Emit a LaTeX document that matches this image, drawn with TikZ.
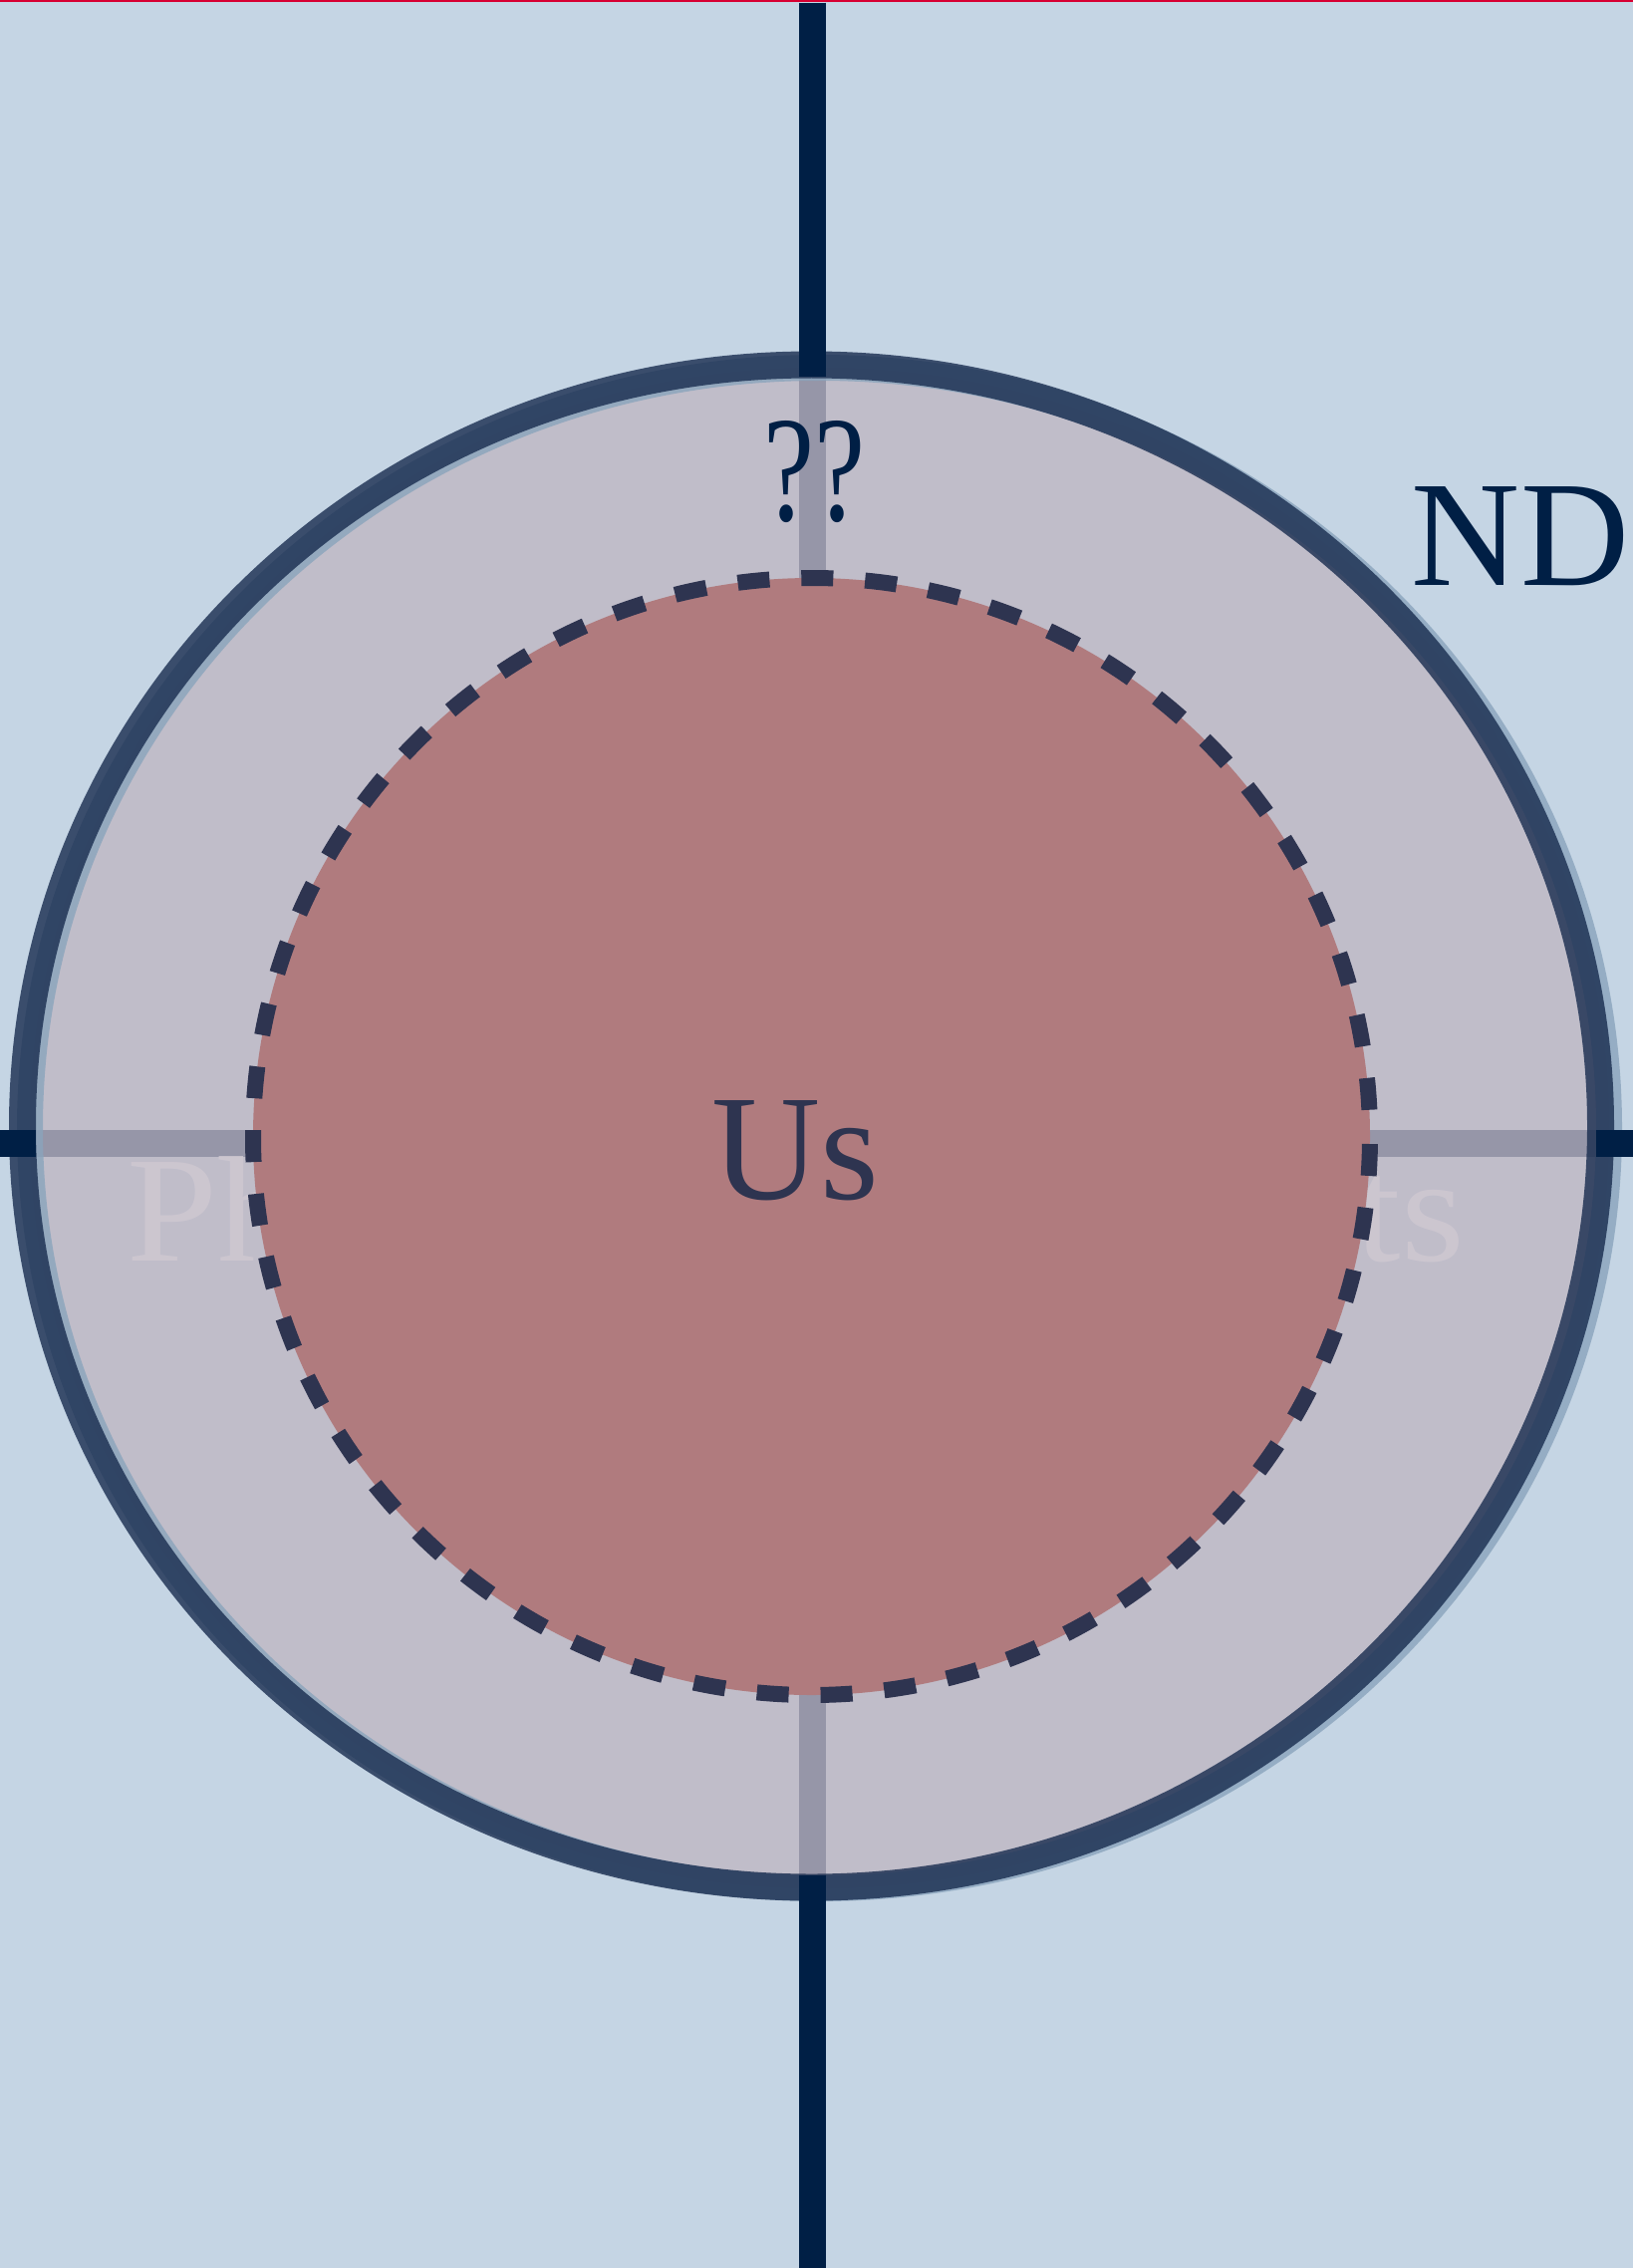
\documentclass[tikz,border=0pt]{standalone}
\usepackage{fontspec}
\setmainfont{Liberation Serif}
\definecolor{bgblue}{RGB}{197,213,228}
\definecolor{navy}{RGB}{0,31,69}
\definecolor{setfill}{RGB}{191,183,195}
\definecolor{rimlight}{RGB}{138,164,188}
\definecolor{rimdark}{RGB}{20,40,75}
\definecolor{usfill}{RGB}{176,123,126}
\definecolor{usline}{RGB}{46,52,80}
\definecolor{topred}{RGB}{215,0,50}

\begin{document}
\begin{tikzpicture}[x=0.1mm,y=-0.1mm,
  axis/.style={draw=navy,line width=2.7mm},
  big/.style={font=\fontsize{43}{52}\selectfont,inner sep=0pt,anchor=base},
  outerset/.style={fill=setfill,fill opacity=0.79,draw=rimlight,draw opacity=0.8,line width=2.6mm},
  outerrim/.style={draw=rimdark,draw opacity=0.78,line width=2.7mm},
  innerset/.style={fill=usfill,draw=usline,line width=1.6mm,
                   dash pattern=on 3.2mm off 3.2mm,dash phase=5.65mm}]

% ---- canvas ----
\fill[bgblue] (0,0) rectangle (1639,2276);
\useasboundingbox (0,0) rectangle (1639,2276);

% ---- axes (run under the sets) ----
\coordinate (top) at (815,3);
\coordinate (bot) at (815,2276);
\coordinate (lft) at (0,1147.5);
\coordinate (rgt) at (1639,1147.5);
\draw[axis] (top) -- (bot);
\draw[axis] (lft) -- (rgt);

% ---- label hidden under the outer set ----
\node[big,text=white] (phys) at (799,1265) {\scalebox{1.084}[1]{Physics departments}};

% ---- outer set, drawn twice a bit apart ----
\path[outerset] (822.5,1132) ellipse [x radius=792.5,y radius=763];
\path[outerrim] (814.5,1130) ellipse [x radius=792,y radius=764];

% axes again where they cross the rim
\coordinate (topin) at (815,378);
\coordinate (botin) at (815,1882);
\coordinate (lftin) at (36,1147.5);
\coordinate (rgtin) at (1602,1147.5);
\draw[axis] (top) -- (topin);
\draw[axis] (botin) -- (bot);
\draw[axis] (lft) -- (lftin);
\draw[axis] (rgtin) -- (rgt);

% ---- inner set ----
\path[innerset] (814.5,1140.5) circle [radius=560.5];

% ---- labels ----
\node[big,text=navy] (unknown) at (817,523) {\scalebox{0.76}[1]{??}};
\node[big,text=navy] (nd) at (1526,587) {ND};
\node[big,text=usline] (us) at (798,1203) {Us};

% ---- top rule ----
\fill[topred] (0,0) rectangle (1639,2.5);
\end{tikzpicture}
\end{document}
